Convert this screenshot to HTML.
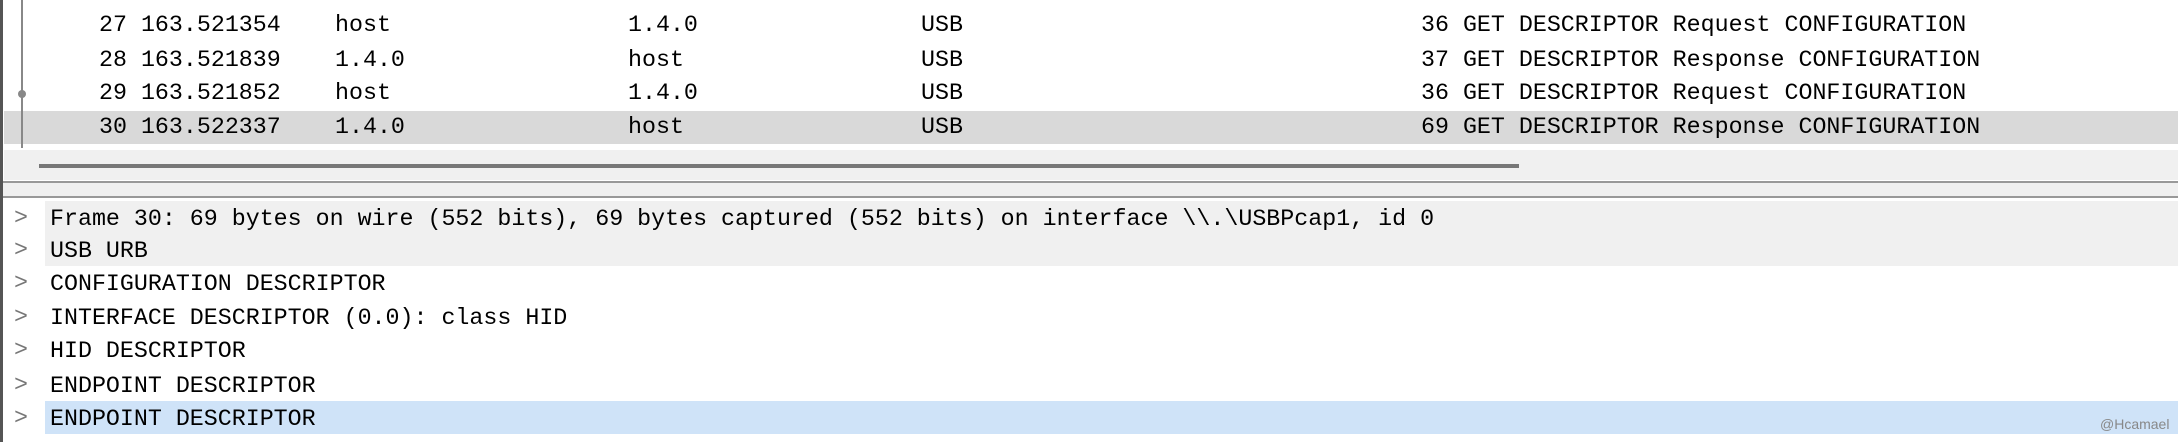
<!DOCTYPE html>
<html><head><meta charset="utf-8"><style>
html,body{margin:0;padding:0;}
body{width:2178px;height:442px;position:relative;background:#fff;overflow:hidden;font-family:"Liberation Mono",monospace;font-size:23.3px;color:#000;}
.a{position:absolute;white-space:pre;line-height:30px;}
</style></head><body>
<div style="position:absolute;left:4px;top:111px;width:2174px;height:33px;background:#d9d9d9"></div>
<div style="position:absolute;left:4px;top:150px;width:2174px;height:30px;background:#f0f0f0"></div>
<div style="position:absolute;left:39px;top:164px;width:1480px;height:4px;background:#777"></div>
<div style="position:absolute;left:0;top:181px;width:2178px;height:2px;background:#999"></div>
<div style="position:absolute;left:0;top:196px;width:2178px;height:2px;background:#999"></div>
<div style="position:absolute;left:0;top:183px;width:2178px;height:13px;background:#f0f0f0"></div>
<div style="position:absolute;left:45px;top:201px;width:2133px;height:65px;background:#f0f0f0"></div>
<div style="position:absolute;left:45px;top:401px;width:2133px;height:33px;background:#cfe3f8"></div>
<div style="position:absolute;left:0;top:0;width:3px;height:442px;background:#555"></div>
<div style="position:absolute;left:21px;top:0;width:2px;height:148px;background:#888"></div>
<div style="position:absolute;left:18px;top:90px;width:8px;height:8px;border-radius:4px;background:#888"></div>

<div class="a" style="left:99px;top:10px">27 163.521354</div><div class="a" style="left:335px;top:10px">host</div><div class="a" style="left:628px;top:10px">1.4.0</div><div class="a" style="left:921px;top:10px">USB</div><div class="a" style="left:1421px;top:10px">36 GET DESCRIPTOR Request CONFIGURATION</div>
<div class="a" style="left:99px;top:45px">28 163.521839</div><div class="a" style="left:335px;top:45px">1.4.0</div><div class="a" style="left:628px;top:45px">host</div><div class="a" style="left:921px;top:45px">USB</div><div class="a" style="left:1421px;top:45px">37 GET DESCRIPTOR Response CONFIGURATION</div>
<div class="a" style="left:99px;top:78px">29 163.521852</div><div class="a" style="left:335px;top:78px">host</div><div class="a" style="left:628px;top:78px">1.4.0</div><div class="a" style="left:921px;top:78px">USB</div><div class="a" style="left:1421px;top:78px">36 GET DESCRIPTOR Request CONFIGURATION</div>
<div class="a" style="left:99px;top:112px">30 163.522337</div><div class="a" style="left:335px;top:112px">1.4.0</div><div class="a" style="left:628px;top:112px">host</div><div class="a" style="left:921px;top:112px">USB</div><div class="a" style="left:1421px;top:112px">69 GET DESCRIPTOR Response CONFIGURATION</div>

<div class="a" style="left:50px;top:204px">Frame 30: 69 bytes on wire (552 bits), 69 bytes captured (552 bits) on interface \\.\USBPcap1, id 0</div>
<div class="a" style="left:50px;top:236px">USB URB</div>
<div class="a" style="left:50px;top:269px">CONFIGURATION DESCRIPTOR</div>
<div class="a" style="left:50px;top:303px">INTERFACE DESCRIPTOR (0.0): class HID</div>
<div class="a" style="left:50px;top:336px">HID DESCRIPTOR</div>
<div class="a" style="left:50px;top:371px">ENDPOINT DESCRIPTOR</div>
<div class="a" style="left:50px;top:404px">ENDPOINT DESCRIPTOR</div>

<div class="a" style="left:14px;top:203px;color:#777">&gt;</div>
<div class="a" style="left:14px;top:235px;color:#777">&gt;</div>
<div class="a" style="left:14px;top:268px;color:#777">&gt;</div>
<div class="a" style="left:14px;top:302px;color:#777">&gt;</div>
<div class="a" style="left:14px;top:335px;color:#777">&gt;</div>
<div class="a" style="left:14px;top:370px;color:#777">&gt;</div>
<div class="a" style="left:14px;top:403px;color:#777">&gt;</div>

<div class="a" style="left:2100px;top:409px;font-family:'Liberation Sans',sans-serif;font-size:14px;color:#888">@Hcamael</div>
</body></html>
